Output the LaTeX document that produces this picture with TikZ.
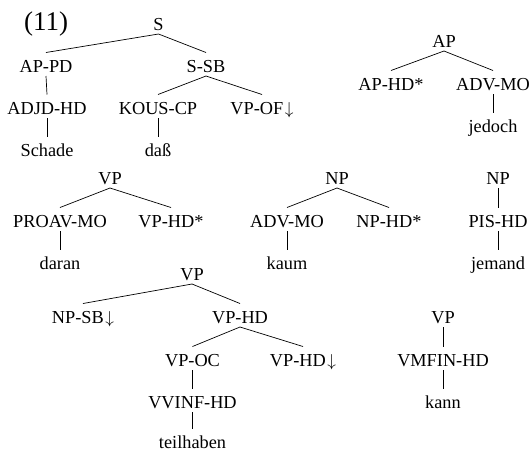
\documentclass[tikz,border=0pt]{standalone}
\usepackage{fontspec}
\setmainfont{Liberation Serif}
\tikzset{
  lab/.style={inner sep=0pt, anchor=base, font=\fontsize{18.3}{20}\selectfont},
  numlab/.style={inner sep=0pt, anchor=base, font=\fontsize{27}{30}\selectfont},
  branch/.style={draw=black, line width=0.7pt}
}
\newcommand\treeedge[2]{\draw[branch] ([yshift=-4pt]#1.base) -- ([yshift=19.5pt]#2.base);}
\newcommand\dn{\kern1.5pt$\downarrow$}
\begin{document}
\begin{tikzpicture}[x=1pt,y=-1pt]
\useasboundingbox (0,0) rectangle (529,451);
% label
\node[numlab] (num) at (46,30) {(11)};
% tree 1
\node[lab] (s) at (158.5,30) {S};
\node[lab] (appd) at (46,72) {AP-PD};
\node[lab] (ssb) at (206,72) {S-SB};
\node[lab] (adjd) at (47,114) {ADJD-HD};
\node[lab] (kous) at (158,114) {KOUS-CP};
\node[lab] (vpof) at (262,114) {VP-OF\dn};
\node[lab] (schade) at (47,156) {Schade};
\node[lab] (dass) at (158,156) {daß};
\treeedge{s}{appd}
\treeedge{s}{ssb}
\treeedge{appd}{adjd}
\treeedge{adjd}{schade}
\treeedge{ssb}{kous}
\treeedge{ssb}{vpof}
\treeedge{kous}{dass}
% tree 2 (AP)
\node[lab] (ap) at (444,47) {AP};
\node[lab] (aphd) at (391,90) {AP-HD*};
\node[lab] (advmo1) at (493,90) {ADV-MO};
\node[lab] (jedoch) at (493,132) {jedoch};
\treeedge{ap}{aphd}
\treeedge{ap}{advmo1}
\treeedge{advmo1}{jedoch}
% tree 3 (VP)
\node[lab] (vp1) at (110,184) {VP};
\node[lab] (proav) at (60,227) {PROAV-MO};
\node[lab] (vphds) at (171,227) {VP-HD*};
\node[lab] (daran) at (60,269) {daran};
\treeedge{vp1}{proav}
\treeedge{vp1}{vphds}
\treeedge{proav}{daran}
% tree 4 (NP)
\node[lab] (np1) at (337,184) {NP};
\node[lab] (advmo2) at (287,227) {ADV-MO};
\node[lab] (nphd) at (389,227) {NP-HD*};
\node[lab] (kaum) at (287,269) {kaum};
\treeedge{np1}{advmo2}
\treeedge{np1}{nphd}
\treeedge{advmo2}{kaum}
% tree 5 (NP)
\node[lab] (np2) at (498,184) {NP};
\node[lab] (pishd) at (498,227) {PIS-HD};
\node[lab] (jemand) at (498,269) {jemand};
\treeedge{np2}{pishd}
\treeedge{pishd}{jemand}
% tree 6 (VP)
\node[lab] (vp2) at (192,280) {VP};
\node[lab] (npsb) at (83,323) {NP-SB\dn};
\node[lab] (vphd) at (240,323) {VP-HD};
\node[lab] (vpoc) at (192.5,366) {VP-OC};
\node[lab] (vphdd) at (303,366) {VP-HD\dn};
\node[lab] (vvinf) at (192.5,408) {VVINF-HD};
\node[lab] (teil) at (192.5,448.5) {teilhaben};
\treeedge{vp2}{npsb}
\treeedge{vp2}{vphd}
\treeedge{vphd}{vpoc}
\treeedge{vphd}{vphdd}
\treeedge{vpoc}{vvinf}
\treeedge{vvinf}{teil}
% tree 7 (VP)
\node[lab] (vp3) at (443,323) {VP};
\node[lab] (vmfin) at (443,366) {VMFIN-HD};
\node[lab] (kann) at (443,408) {kann};
\treeedge{vp3}{vmfin}
\treeedge{vmfin}{kann}
\end{tikzpicture}
\end{document}
